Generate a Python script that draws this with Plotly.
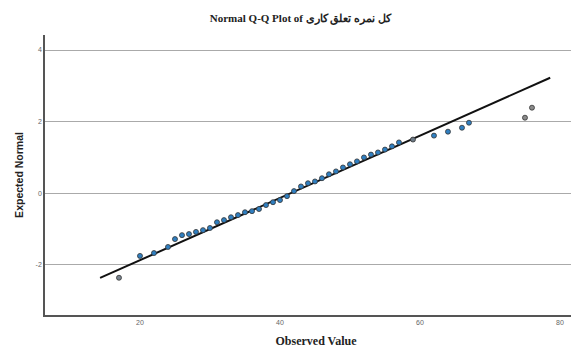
import plotly.graph_objects as go

observed = [17, 20, 22, 24, 25, 26, 27, 28, 29, 30, 31, 32, 33, 34, 35, 36, 37, 38, 39, 40,
            41, 42, 43, 44, 45, 46, 47, 48, 49, 50, 51, 52, 53, 54, 55, 56, 57, 59, 62, 64,
            66, 67, 75, 76]
expected = [-2.36, -1.75, -1.67, -1.50, -1.28, -1.17, -1.14, -1.08, -1.03, -0.97, -0.81, -0.75,
            -0.67, -0.61, -0.53, -0.50, -0.44, -0.33, -0.25, -0.19, -0.08, 0.06, 0.19, 0.28,
            0.33, 0.42, 0.53, 0.61, 0.72, 0.81, 0.89, 1.00, 1.08, 1.14, 1.22, 1.31, 1.42, 1.50,
            1.61, 1.72, 1.83, 1.97, 2.11, 2.39]
point_fill = ["#7a8590"] + ["#2f7fc1"] * 36 + ["#6d7a86"] + ["#2f7fc1"] * 4 + ["#8a8a8a", "#8a8a8a"]

# Reference normal line parameters
line_mean = 41.5
line_sd = 11.5
line_x = [14.3, 78.6]
line_y = [(v - line_mean) / line_sd for v in line_x]

x_ticks = [20, 40, 60, 80]
y_ticks = [-2, 0, 2, 4]
y_tick_text = ["-2", "0", "2", "4"]

title_text = "Normal Q-Q Plot of کل نمره تعلق کاری"
serif = "Liberation Serif, Times New Roman, serif"

fig = go.Figure()
fig.add_trace(go.Scatter(x=line_x, y=line_y, mode="lines",
                         line=dict(color="#111111", width=2), hoverinfo="skip",
                         showlegend=False))
fig.add_trace(go.Scatter(x=observed, y=expected, mode="markers",
                         marker=dict(size=5, color=point_fill,
                                     line=dict(color="#333333", width=0.8)),
                         showlegend=False))

fig.update_layout(
    width=579, height=349,
    margin=dict(l=37, r=0, t=27, b=42, autoexpand=False),
    paper_bgcolor="white", plot_bgcolor="white",
    font=dict(family="Liberation Sans, Arial, sans-serif", color="#222"),
    title=dict(text="<b>" + title_text + "</b>", x=0.505, xanchor="center",
               y=0.972, yanchor="middle",
               font=dict(size=11, color="#222", family=serif)),
    xaxis=dict(range=[6.43, 83.86], tickvals=x_ticks, showgrid=False, zeroline=False,
               showline=True, linecolor="#555", linewidth=1.5, automargin=False,
               ticks="", tickfont=dict(size=7, color="#666"),
               title=dict(text="<b>Observed Value</b>",
                          font=dict(size=12, color="#222", family=serif),
                          standoff=11)),
    yaxis=dict(range=[-3.4, 4.42], tickvals=y_ticks, ticktext=y_tick_text,
               showgrid=True, gridcolor="#aaaaaa", gridwidth=1, zeroline=False,
               showline=True, linecolor="#555", linewidth=1.5, automargin=False,
               ticks="", tickfont=dict(size=7, color="#666"),
               title=dict(text="<b>Expected Normal</b>",
                          font=dict(size=10.5, color="#222"),
                          standoff=10)),
)

fig.write_html("out.html")
